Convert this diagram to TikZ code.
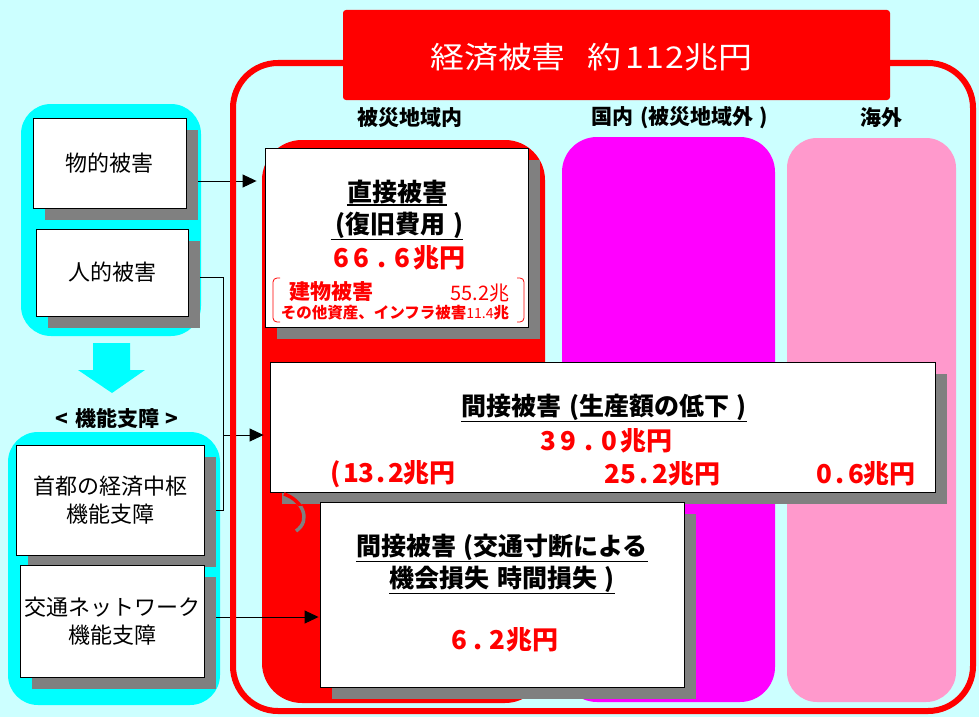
\documentclass[tikz,border=0pt]{standalone}
\usepackage{fontspec}
\setmainfont{Noto Sans CJK JP}
\usetikzlibrary{arrows.meta,shadows}
\definecolor{bgc}{RGB}{204,255,255}
\definecolor{cyanb}{RGB}{0,255,255}
\definecolor{magc}{RGB}{255,0,255}
\definecolor{pinkc}{RGB}{255,153,204}
\definecolor{shad}{RGB}{128,128,128}
\newcommand\fw[2]{\makebox[#1][c]{#2}}
\newcommand\wsp{\hspace{0.3em}}
\pgfdeclarelayer{bgl}
\pgfdeclarelayer{cnl}
\pgfdeclarelayer{brd}
\pgfsetlayers{bgl,cnl,brd,main}
\begin{document}
\begin{tikzpicture}[x=1pt,y=-1pt,
  box/.style={draw=black,line width=0.9pt,fill=white,inner sep=0pt,align=center,
    drop shadow={shadow xshift=12pt,shadow yshift=-12pt,fill=shad,opacity=1}},
  txt/.style={inner sep=0pt,align=center},
  lt/.style={font=\fontsize{22}{28}\selectfont},
  hd/.style={txt,font=\bfseries\fontsize{21}{24}\selectfont},
  ttl/.style={txt,font=\bfseries\fontsize{25}{28}\selectfont},
  num/.style={txt,text=red,font=\bfseries\fontsize{26}{28}\selectfont},
  conn/.style={line width=0.9pt,-{Triangle[length=14pt,width=13pt]}},
  ul/.style={line width=1.8pt}]
\useasboundingbox (0,0) rectangle (979,717);
\begin{pgfonlayer}{bgl}
\fill[bgc] (0,0) rectangle (979,717);
\fill[cyanb,rounded corners=30pt] (21,104) rectangle (201,336);
\fill[cyanb,rounded corners=30pt] (8,432) rectangle (220,705);
\fill[cyanb] (93,343) -- (130,343) -- (130,370) -- (145,370) -- (112,393) -- (78,370) -- (93,370) -- cycle;
\fill[red,rounded corners=40pt] (262,140) rectangle (545,703);
\fill[magc,rounded corners=35pt] (562,137) rectangle (775,702);
\fill[pinkc,rounded corners=30pt] (787,138) rectangle (956,702);
\end{pgfonlayer}
\begin{pgfonlayer}{brd}
\draw[red,line width=6pt,rounded corners=45pt] (233,63) rectangle (973,711);
\end{pgfonlayer}
% title
\node[fill=red,rounded corners=3pt,minimum width=547,minimum height=90,inner sep=0pt] (title) at (616.5,55) {};
\node[txt,anchor=west,text=white,font=\fontsize{30}{34}\selectfont\addfontfeature{FakeStretch=1.13}] (titletext) at (430,57)
  {経済被害\hspace{22pt}約\hspace{3pt}\fw{20pt}{1}\fw{20pt}{1}\fw{20pt}{2}兆円};
% headers
\node[hd] (h1) at (410,118) {被災地域内};
\node[hd] (h2) at (680,118) {国内\wsp(被災地域外\wsp)};
\node[hd] (h3) at (881,118) {海外};
% left boxes
\node[box,lt,minimum width=153,minimum height=90] (b1) at (109.5,163) {物的被害};
\node[box,lt,minimum width=152,minimum height=87] (b2) at (112,272.5) {人的被害};
\node[hd] (kino) at (117,418) {<\wsp 機能支障\wsp >};
\node[box,lt,minimum width=188,minimum height=110] (b3) at (110,500) {首都の経済中枢\\機能支障};
\node[box,lt,minimum width=184,minimum height=112] (b4) at (112,621) {交通ネットワーク\\機能支障};
% direct damage
\node[box,minimum width=263,minimum height=179] (d) at (396.5,237.5) {};
\node[ttl] (d1) at (397,192) {直接被害};
\draw[ul] ([yshift=-1pt]d1.south west) -- ([yshift=-1pt]d1.south east);
\node[ttl] (d2) at (397,225) {\hspace{0.2em}(復旧費用\wsp)};
\draw[ul] ([yshift=-1pt]d2.south west) -- ([yshift=-1pt]d2.south east);
\node[num] (d3) at (398,258) {\fw{20.5pt}{6}\fw{20.5pt}{6}\fw{20.5pt}{.}\fw{20.5pt}{6}兆円};
\draw[red,line width=0.8pt,rounded corners=4pt] (280,278) -- (273,278) -- (273,322) -- (280,322);
\draw[red,line width=0.8pt,rounded corners=4pt] (517,278) -- (524,278) -- (524,322) -- (517,322);
\node[txt,text=red,font=\bfseries\fontsize{21}{24}\selectfont] (d4) at (331,292) {建物被害};
\node[txt,text=red,font=\fontsize{20}{24}\selectfont] (d5) at (480,293) {55.2兆};
\node[txt,text=red,font=\bfseries\fontsize{15.5}{18}\selectfont] (d6) at (395,313) {その他資産、インフラ被害{\mdseries\fontsize{14}{16}\selectfont 11.4}兆};
% production
\node[box,minimum width=665,minimum height=130] (g) at (602.5,427) {};
\node[ttl] (g1) at (604,407) {間接被害\wsp(生産額の低下\wsp)};
\draw[ul] ([yshift=-1pt]g1.south west) -- ([yshift=-1pt]g1.south east);
\node[num] (g2) at (605,441) {\fw{20.5pt}{3}\fw{20.5pt}{9}\fw{20.5pt}{.}\fw{20.5pt}{0}兆円};
\node[num] (g3) at (392,474) {\fw{15pt}{(}\fw{15pt}{1}\fw{15pt}{3}\fw{15pt}{.}\fw{15pt}{2}兆円};
\node[num] (g4) at (662,474) {\fw{16pt}{2}\fw{16pt}{5}\fw{16pt}{.}\fw{16pt}{2}兆円};
\node[num] (g5) at (866,474) {\fw{16pt}{0}\fw{16pt}{.}\fw{16pt}{6}兆円};
% stray paren
\draw[shad,line width=3.5pt] (284,494) .. controls (302,500) and (312,520) .. (296,531);
\begin{scope}
\clip (281,492) rectangle (330,505);
\draw[red,line width=3.5pt] (284,494) .. controls (302,500) and (312,520) .. (296,531);
\end{scope}
% transport
\node[box,minimum width=364,minimum height=185] (t) at (502,594.5) {};
\node[ttl] (t1) at (502,547) {間接被害\wsp(交通寸断による};
\draw[ul] ([yshift=-1pt]t1.south west) -- ([yshift=-1pt]t1.south east);
\node[ttl] (t2) at (502,579) {機会損失\wsp 時間損失\wsp)};
\draw[ul] ([yshift=-1pt]t2.south west) -- ([yshift=-1pt]t2.south east);
\node[num] (t3) at (504,640) {\fw{19pt}{6}\fw{19pt}{.}\fw{19pt}{2}兆円};
% connectors
\coordinate (j) at (223,435);
\begin{pgfonlayer}{cnl}
\draw[conn,shorten >=8pt] ([yshift=-18pt]b1.east) -- ([yshift=-18pt]b1.east -| d.west);
\draw[line width=0.9pt] ([yshift=-4.5pt]b2.east) -| ([yshift=-10pt]b3.east -| j) -- ([yshift=-10pt]b3.east);
\draw[conn,shorten >=6pt] (j) -- (j -| g.west);
\draw[conn,shorten >=1pt] ([yshift=4pt]b4.east) -- ([yshift=4pt]b4.east -| t.west);
\end{pgfonlayer}
\end{tikzpicture}
\end{document}
